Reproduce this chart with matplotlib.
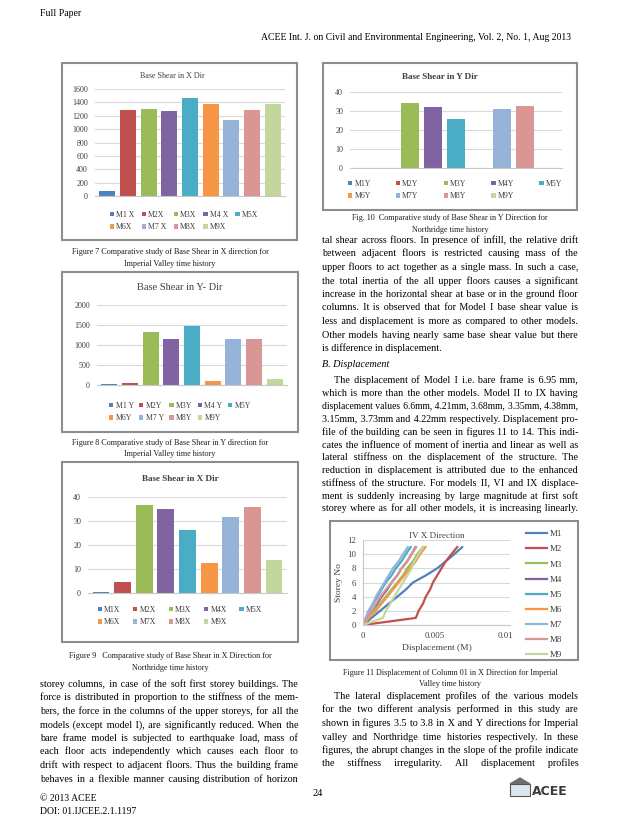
import matplotlib.pyplot as plt
from matplotlib.patches import Rectangle, Polygon
import numpy as np

plt.rcParams['font.family'] = ['Liberation Serif', 'DejaVu Serif']

# ---- data ----
colors = ['#4F81BD', '#C0504D', '#9BBB59', '#8064A2', '#4BACC6',
          '#F79646', '#95B3D7', '#D99694', '#C3D69B']

fig7_labels = ['M1 X', 'M2X', 'M3X', 'M4 X', 'M5X', 'M6X', 'M7 X', 'M8X', 'M9X']
fig7_vals = [80, 1290, 1300, 1265, 1470, 1370, 1140, 1290, 1370]

fig8_labels = ['M1 Y', 'M2Y', 'M3Y', 'M4 Y', 'M5Y', 'M6Y', 'M7 Y', 'M8Y', 'M9Y']
fig8_vals = [30, 60, 1320, 1150, 1480, 100, 1160, 1150, 140]

fig9_labels = ['M1X', 'M2X', 'M3X', 'M4X', 'M5X', 'M6X', 'M7X', 'M8X', 'M9X']
fig9_vals = [0.6, 4.7, 36.5, 35.0, 26.2, 12.3, 31.5, 36.0, 13.8]

fig10_labels = ['M1Y', 'M2Y', 'M3Y', 'M4Y', 'M5Y', 'M6Y', 'M7Y', 'M8Y', 'M9Y']
fig10_vals = [0, 0, 34.0, 32.0, 26.0, 0, 31.2, 32.5, 0]

fig11_models = ['M1', 'M2', 'M3', 'M4', 'M5', 'M6', 'M7', 'M8', 'M9']
storeys = list(range(12))
disp_m1 = [0, 0.0006, 0.0012, 0.0018, 0.0024, 0.0030, 0.0035, 0.0044, 0.0052, 0.0058, 0.0064, 0.00695]
disp_m2 = [0, 0.0037, 0.0039, 0.0042, 0.0044, 0.0047, 0.0049, 0.0052, 0.0055, 0.0058, 0.0062, 0.0066]
disp_m3 = [0, 0.0004, 0.0008, 0.0012, 0.0016, 0.0020, 0.0024, 0.0028, 0.0031, 0.0035, 0.0038, 0.00421]
disp_m4 = [0, 0.0003, 0.0006, 0.0010, 0.0013, 0.0017, 0.0020, 0.0024, 0.0027, 0.0031, 0.0034, 0.00368]
disp_m5 = [0, 0.0002, 0.0004, 0.0007, 0.0010, 0.0013, 0.0016, 0.0020, 0.0023, 0.0027, 0.0030, 0.00335]
disp_m6 = [0, 0.0004, 0.0009, 0.0013, 0.0017, 0.0021, 0.0025, 0.0029, 0.0033, 0.0037, 0.0040, 0.00438]
disp_m7 = [0, 0.0002, 0.0004, 0.0007, 0.0009, 0.0012, 0.0015, 0.0018, 0.0021, 0.0025, 0.0028, 0.00315]
disp_m8 = [0, 0.0003, 0.0006, 0.0009, 0.0012, 0.0016, 0.0020, 0.0024, 0.0027, 0.0031, 0.0034, 0.00373]
disp_m9 = [0, 0.0014, 0.0016, 0.0019, 0.0022, 0.0025, 0.0028, 0.0031, 0.0034, 0.0036, 0.0039, 0.00422]
disp_all = [disp_m1, disp_m2, disp_m3, disp_m4, disp_m5, disp_m6, disp_m7, disp_m8, disp_m9]

W, H = 638, 826
fig = plt.figure(figsize=(W / 100, H / 100), dpi=100)
renderer = fig.canvas.get_renderer()
HAIR = '\u200a'


def fx(x):
    return x / W


def fy(y):
    return 1 - y / H


def frame(x0, y0, x1, y1):
    fig.add_artist(Rectangle((fx(x0), fy(y1)), (x1 - x0) / W, (y1 - y0) / H,
                             transform=fig.transFigure, fill=False,
                             ec='#8c8c8c', lw=1.5))


def axes_px(x0, y0, x1, y1):
    return fig.add_axes([fx(x0), fy(y1), (x1 - x0) / W, (y1 - y0) / H])


def bar_chart(plot, vals, labels, ymax, step, title, title_xy, title_kw,
              leg_xy, colsp):
    ax = axes_px(*plot)
    x = np.arange(len(vals))
    bars = ax.bar(x, vals, width=0.78, color=colors)
    ax.set_xlim(-0.6, len(vals) - 0.4)
    ax.set_ylim(0, ymax)
    ax.set_yticks(np.arange(0, ymax + 1, step))
    ax.set_xticks([])
    ax.yaxis.grid(True, color='#d9d9d9', lw=0.8)
    ax.set_axisbelow(True)
    for s in ['top', 'right', 'left']:
        ax.spines[s].set_visible(False)
    ax.spines['bottom'].set_color('#c8c8c8')
    ax.tick_params(length=0, labelsize=5.8, labelcolor='#404040', pad=5)
    fig.text(fx(title_xy[0]), fy(title_xy[1]), title, ha='center', va='center',
             color='#404040', **title_kw)
    # row-major order for a 5 column legend
    order = [0, 5, 1, 6, 2, 7, 3, 8, 4]
    ax.legend([bars[i] for i in order], [labels[i] for i in order], ncol=5,
              loc='center', bbox_to_anchor=(fx(leg_xy[0]), fy(leg_xy[1])),
              bbox_transform=fig.transFigure, frameon=False, fontsize=5.6,
              handlelength=0.55, handleheight=0.55, handletextpad=0.3,
              columnspacing=colsp, labelspacing=0.55, labelcolor='#404040')
    return ax


def text_line(words, x0, x1, y, size, spread, style='normal'):
    # one text object per line; extra room goes into hair spaces between words
    t = fig.text(fx(x0), fy(y), '', fontsize=size, va='baseline', style=style)

    def width(s):
        t.set_text(s)
        return t.get_window_extent(renderer).width

    nat = width(' '.join(words))
    if nat > x1 - x0:
        t.set_fontsize(size * (x1 - x0) / nat * 0.995)
        nat = width(' '.join(words))
    if not spread or len(words) < 2:
        t.set_text(' '.join(words))
        return
    hw = (width('a' + HAIR * 20 + 'a') - width('aa')) / 20
    if hw < 0.1:
        t.set_text(' '.join(words))
        return
    k = (x1 - x0 - nat) / (len(words) - 1) / hw
    s = words[0]
    for i, w in enumerate(words[1:], 1):
        n = int(round(k * i)) - int(round(k * (i - 1)))
        s += ' ' + HAIR * n + w
    t.set_text(s)


def paragraph(lines, x0, x1, y0, dy, size, last_free=True, indent=0):
    for i, line in enumerate(lines):
        xs = x0 + (indent if i == 0 else 0)
        spread = not (last_free and i == len(lines) - 1)
        text_line(line.split(), xs, x1, y0 + i * dy, size, spread)


def caption(lines, cx, y0, dy=11.5, size=5.9):
    for i, line in enumerate(lines):
        fig.text(fx(cx), fy(y0 + i * dy), line, ha='center', va='center',
                 fontsize=size, color='#202020')


# ---- header ----
fig.text(fx(40), fy(14), 'Full Paper', fontsize=7, va='center')
fig.text(fx(571), fy(37), 'ACEE Int. J. on Civil and Environmental Engineering, Vol. 2, No. 1, Aug 2013',
         fontsize=7, va='center', ha='right')

# ---- Figure 7 ----
frame(62, 63, 297, 240)
bar_chart((95, 89, 285, 196), fig7_vals, fig7_labels, 1600, 200,
          'Base Shear in X Dir', (172, 76), dict(fontsize=5.8),
          (184, 221), 0.9)
caption(['Figure 7 Comparative study of Base Shear in X direction for',
         'Imperial Valley time history'], 170, 252)

# ---- Figure 8 ----
frame(62, 272, 298, 432)
bar_chart((97, 305, 287, 385), fig8_vals, fig8_labels, 2000, 500,
          'Base Shear in Y- Dir', (180, 288), dict(fontsize=7.5),
          (180, 412), 0.7)
caption(['Figure 8 Comparative study of Base Shear in Y direction for',
         'Imperial Valley time history'], 170, 443)

# ---- Figure 9 ----
frame(62, 462, 298, 642)
bar_chart((88, 497, 287, 593), fig9_vals, fig9_labels, 40, 10,
          'Base Shear in X Dir', (180, 479), dict(fontsize=6.6, weight='bold'),
          (180, 616), 1.6)
caption(['Figure 9   Comparative study of Base Shear in X Direction for',
         'Northridge time history'], 170, 656)

# ---- Figure 10 ----
frame(323, 63, 577, 210)
bar_chart((350, 92, 562, 168), fig10_vals, fig10_labels, 40, 10,
          'Base Shear in Y Dir', (440, 77), dict(fontsize=6.6, weight='bold'),
          (455, 190), 3.2)
caption(['Fig. 10  Comparative study of Base Shear in Y Direction for',
         'Northridge time history'], 450, 218)

# ---- Figure 11 ----
frame(330, 521, 578, 660)
ax = axes_px(363, 540, 510, 625)
for vals, col, name in zip(disp_all, colors, fig11_models):
    ax.plot(vals, storeys, color=col, lw=1.6, label=name)
ax.set_xlim(0, 0.0103)
ax.set_ylim(0, 12)
ax.set_xticks([0, 0.005, 0.01])
ax.set_xticklabels(['0', '0.005', '0.01'])
ax.set_yticks(range(0, 13, 2))
ax.yaxis.grid(True, color='#d9d9d9', lw=0.8)
ax.set_axisbelow(True)
for s in ['top', 'right']:
    ax.spines[s].set_visible(False)
for s in ['bottom', 'left']:
    ax.spines[s].set_color('#c8c8c8')
ax.tick_params(length=0, labelsize=6.3, labelcolor='#404040', pad=5)
ax.set_xlabel('Displacement (M)', fontsize=6.8, color='#404040', labelpad=3)
ax.set_ylabel('Storey No', fontsize=6.8, color='#404040', labelpad=3)
ax.set_title('IV X Direction', fontsize=6.6, color='#404040', pad=-2)
fig.legend(loc='upper left', bbox_to_anchor=(fx(518), fy(522)), frameon=False,
           fontsize=6.4, handlelength=2.4, handletextpad=0.3, labelspacing=0.78,
           labelcolor='#404040')
caption(['Figure 11 Displacement of Column 01 in X Direction for Imperial',
         'Valley time history'], 450, 673)

# ---- body text ----
lx0, lx1 = 40, 298
rx0, rx1 = 322, 578
size = 7.3

paragraph(['storey columns, in case of the soft first storey buildings. The',
           'force is distributed in proportion to the stiffness of the mem-',
           'bers, the force in the columns of the upper storeys, for all the',
           'models (except model I), are significantly reduced. When the',
           'bare frame model is subjected to earthquake load, mass of',
           'each floor acts independently which causes each floor to',
           'drift with respect to adjacent floors. Thus the building frame',
           'behaves in a flexible manner causing distribution of horizon'],
          lx0, lx1, 687, 13.5, size, last_free=False)

paragraph(['tal shear across floors. In presence of infill, the relative drift',
           'between adjacent floors is restricted causing mass of the',
           'upper floors to act together as a single mass. In such a case,',
           'the total inertia of the all upper floors causes a significant',
           'increase in the horizontal shear at base or in the ground floor',
           'columns. It is observed that for Model I base shear value is',
           'less and displacement is more as compared to other models.',
           'Other models having nearly same base shear value but there',
           'is difference in displacement.'],
          rx0, rx1, 243, 13.5, size)

fig.text(fx(rx0), fy(367), 'B. Displacement', fontsize=size, style='italic', va='baseline')

paragraph(['The displacement of Model I i.e. bare frame is 6.95 mm,',
           'which is more than the other models. Model II to IX having',
           'displacement values 6.6mm, 4.21mm, 3.68mm, 3.35mm, 4.38mm,',
           '3.15mm, 3.73mm and 4.22mm respectively. Displacement pro-',
           'file of the building can be seen in figures 11 to 14. This indi-',
           'cates the influence of moment of inertia and linear as well as',
           'lateral stiffness on the displacement of the structure. The',
           'reduction in displacement is attributed due to the enhanced',
           'stiffness of the structure. For models II, VI and IX displace-',
           'ment is suddenly increasing by large magnitude at first soft'],
          rx0, rx1, 383, 12.9, size, last_free=False, indent=12)
paragraph(['storey where as for all other models, it is increasing linearly.'],
          rx0, rx1, 511, 13, size, last_free=False)

paragraph(['The lateral displacement profiles of the various models',
           'for the two different analysis performed in this study are',
           'shown in figures 3.5 to 3.8 in X and Y directions for Imperial',
           'valley and Northridge time histories respectively. In these',
           'figures, the abrupt changes in the slope of the profile indicate',
           'the stiffness irregularity. All displacement profiles'],
          rx0, rx1, 699, 13.5, size, last_free=False, indent=12)

# ---- footer ----
fig.text(fx(40), fy(801), '\u00a9 2013 ACEE', fontsize=7, va='baseline')
fig.text(fx(40), fy(814), 'DOI: 01.IJCEE.2.1.1197', fontsize=7, va='baseline')
fig.text(fx(318), fy(796), '24', fontsize=7.5, va='baseline', ha='center')

# small ACEE logo
fig.add_artist(Polygon([(fx(510), fy(784)), (fx(520), fy(778)), (fx(530), fy(784))],
                       closed=True, transform=fig.transFigure, fc='#6d6d6d', ec='#6d6d6d'))
fig.add_artist(Rectangle((fx(510), fy(796)), 20 / W, 12 / H, transform=fig.transFigure,
                         fc='#dbe6f0', ec='#555555', lw=0.8))
fig.text(fx(532), fy(795), 'ACEE', fontsize=9, weight='bold', family='DejaVu Sans',
         color='#3a3a3a', va='baseline')

fig.savefig('out.png', dpi=100)
